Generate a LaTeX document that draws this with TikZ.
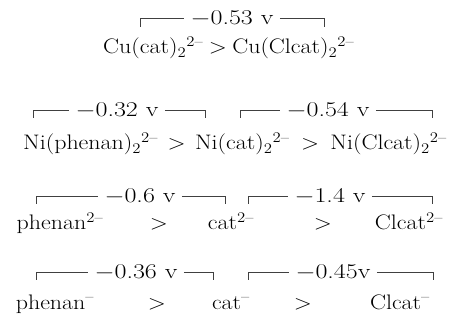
\documentclass[tikz,border=0pt]{standalone}
\usetikzlibrary{positioning}
\newcommand{\chg}[1]{\textsuperscript{#1}}
\newcommand{\nn}[1]{\textsubscript{#1}}
\tikzset{
  font=\fontsize{21}{24}\selectfont,
  species/.style ={xscale=1.14, transform shape, inner sep=0pt, anchor=base},
  gt/.style      ={xscale=1.14, transform shape, inner sep=0pt, anchor=base},
  pot/.style     ={xscale=1.24, transform shape, inner xsep=5pt, inner ysep=0pt},
  brk/.style     ={line width=0.6pt, black!75},
}
\begin{document}
\begin{tikzpicture}[x=1pt, y=-1pt]
  \useasboundingbox (0,0) rectangle (451,329);

  % copper complexes
  \node[species, anchor=base west] (cucat) at (103,54) {Cu(cat)\nn{2}\chg{2--}};
  \node[gt, anchor=base west] (g1)    at ([xshift=5pt]cucat.base east) {$>$};
  \node[species, anchor=base west] (cuclc) at ([xshift=5pt]g1.base east) {Cu(Clcat)\nn{2}\chg{2--}};
  \node[pot] (e1) at (232,18) {$-$0.53 v};
  \coordinate (e1l) at (140,27); \coordinate (e1r) at (324,27);
  \draw[brk] (e1l) |- (e1); \draw[brk] (e1) -| (e1r);

  % nickel complexes
  \node[species, anchor=base west] (niphe) at (23,150) {Ni(phenan)\nn{2}\chg{2--}};
  \node[gt, anchor=base west] (g2)    at ([xshift=9pt]niphe.base east) {$>$};
  \node[species, anchor=base west] (nicat) at ([xshift=9pt]g2.base east) {Ni(cat)\nn{2}\chg{2--}};
  \node[gt, anchor=base west] (g3)    at ([xshift=11pt]nicat.base east) {$>$};
  \node[species, anchor=base west] (niclc) at ([xshift=11pt]g3.base east) {Ni(Clcat)\nn{2}\chg{2--}};
  \node[pot] (e2) at (117,110) {$-$0.32 v};
  \node[pot] (e3) at (328,110) {$-$0.54 v};
  \coordinate (e2l) at (33,118);  \coordinate (e2r) at (205,118);
  \coordinate (e3l) at (240,118); \coordinate (e3r) at (432,118);
  \draw[brk] (e2l) |- (e2); \draw[brk] (e2) -| (e2r);
  \draw[brk] (e3l) |- (e3); \draw[brk] (e3) -| (e3r);

  % free ligands, dianions
  \node[species] (phe2)  at (60,230)  {phenan\chg{2--}};
  \node[gt]      (g4)    at (159,230) {$>$};
  \node[species] (cat2)  at (231,230) {cat\chg{2--}};
  \node[gt]      (g5)    at (323,230) {$>$};
  \node[species] (clc2)  at (409,230) {Clcat\chg{2--}};
  \node[pot] (e4) at (140,196) {$-$0.6 v};
  \node[pot] (e5) at (330,196) {$-$1.4 v};
  \coordinate (e4l) at (36,204);  \coordinate (e4r) at (225,204);
  \coordinate (e5l) at (248,204); \coordinate (e5r) at (432,204);
  \draw[brk] (e4l) |- (e4); \draw[brk] (e4) -| (e4r);
  \draw[brk] (e5l) |- (e5); \draw[brk] (e5) -| (e5r);

  % free ligands, monoanions
  \node[species] (phe1)  at (55,309)  {phenan\chg{--}};
  \node[gt]      (g6)    at (157,309) {$>$};
  \node[species] (cat1)  at (231,309) {cat\chg{--}};
  \node[gt]      (g7)    at (303,309) {$>$};
  \node[species] (clc1)  at (400,309) {Clcat\chg{--}};
  \node[pot] (e6) at (136,272) {$-$0.36 v};
  \node[pot] (e7) at (333,272) {$-$0.45v};
  \coordinate (e6l) at (36,280);  \coordinate (e6r) at (213,280);
  \coordinate (e7l) at (248,280); \coordinate (e7r) at (433,280);
  \draw[brk] (e6l) |- (e6); \draw[brk] (e6) -| (e6r);
  \draw[brk] (e7l) |- (e7); \draw[brk] (e7) -| (e7r);
\end{tikzpicture}
\end{document}
